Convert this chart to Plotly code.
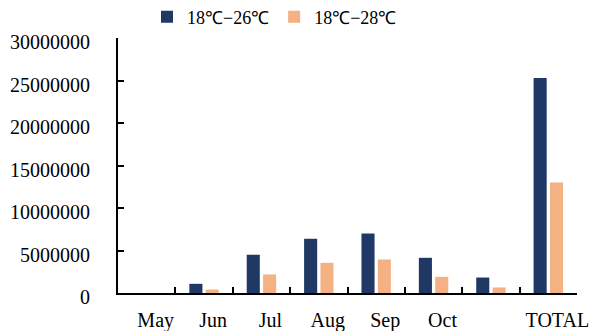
import plotly.graph_objects as go

categories = ["May", "Jun", "Jul", "Aug", "Sep", "Oct", "Nov", "TOTAL"]
tick_labels = ["May", "Jun", "Jul", "Aug", "Sep", "Oct", "", "TOTAL"]
series_26 = [0, 1080000, 4500000, 6380000, 7000000, 4140000, 1820000, 25300000]
series_28 = [0, 410000, 2180000, 3550000, 3940000, 1900000, 650000, 13000000]
name_26 = "18℃−26℃"
name_28 = "18℃−28℃"
y_ticks = [0, 5000000, 10000000, 15000000, 20000000, 25000000, 30000000]

FONT = "Liberation Serif, Times New Roman, serif"

fig = go.Figure()
fig.add_trace(go.Bar(x=categories, y=series_26, name=name_26,
                     marker=dict(color="#1F3864", line=dict(width=0))))
fig.add_trace(go.Bar(x=categories, y=series_28, name=name_28,
                     marker=dict(color="#F4B183", line=dict(width=0))))

fig.update_layout(
    width=593, height=331,
    margin=dict(l=118, r=16, t=38, b=38),
    paper_bgcolor="white", plot_bgcolor="white",
    barmode="group", bargap=0.43, bargroupgap=0.2,
    font=dict(family=FONT, size=20, color="black"),
    showlegend=True,
    legend=dict(orientation="h", x=147 / 593, xref="container", xanchor="left",
                y=1 - 17 / 331, yref="container", yanchor="middle",
                font=dict(size=18, family=FONT), bgcolor="rgba(0,0,0,0)",
                itemwidth=30, tracegroupgap=0),
)
fig.update_xaxes(
    type="category", categoryorder="array", categoryarray=categories,
    tickvals=categories, ticktext=tick_labels, tickangle=0, automargin=False,
    showline=True, linecolor="black", linewidth=2,
    ticks="inside", tickson="boundaries", ticklen=6, tickwidth=2, tickcolor="black",
    showgrid=False, zeroline=False,
    ticklabelshift=9, ticklabelstandoff=8,
    tickfont=dict(size=20, family=FONT),
)
fig.update_yaxes(
    range=[0, 30000000], tickvals=y_ticks, ticktext=[str(v) for v in y_ticks],
    automargin=False,
    showline=True, linecolor="black", linewidth=2,
    ticks="inside", ticklen=6, tickwidth=2, tickcolor="black",
    showgrid=False, zeroline=False,
    ticklabelstandoff=22, ticklabelshift=4,
    tickfont=dict(size=20, family=FONT),
)

fig.write_html("out.html", config={"displayModeBar": False},
               post_script="document.body.style.margin='0';")
